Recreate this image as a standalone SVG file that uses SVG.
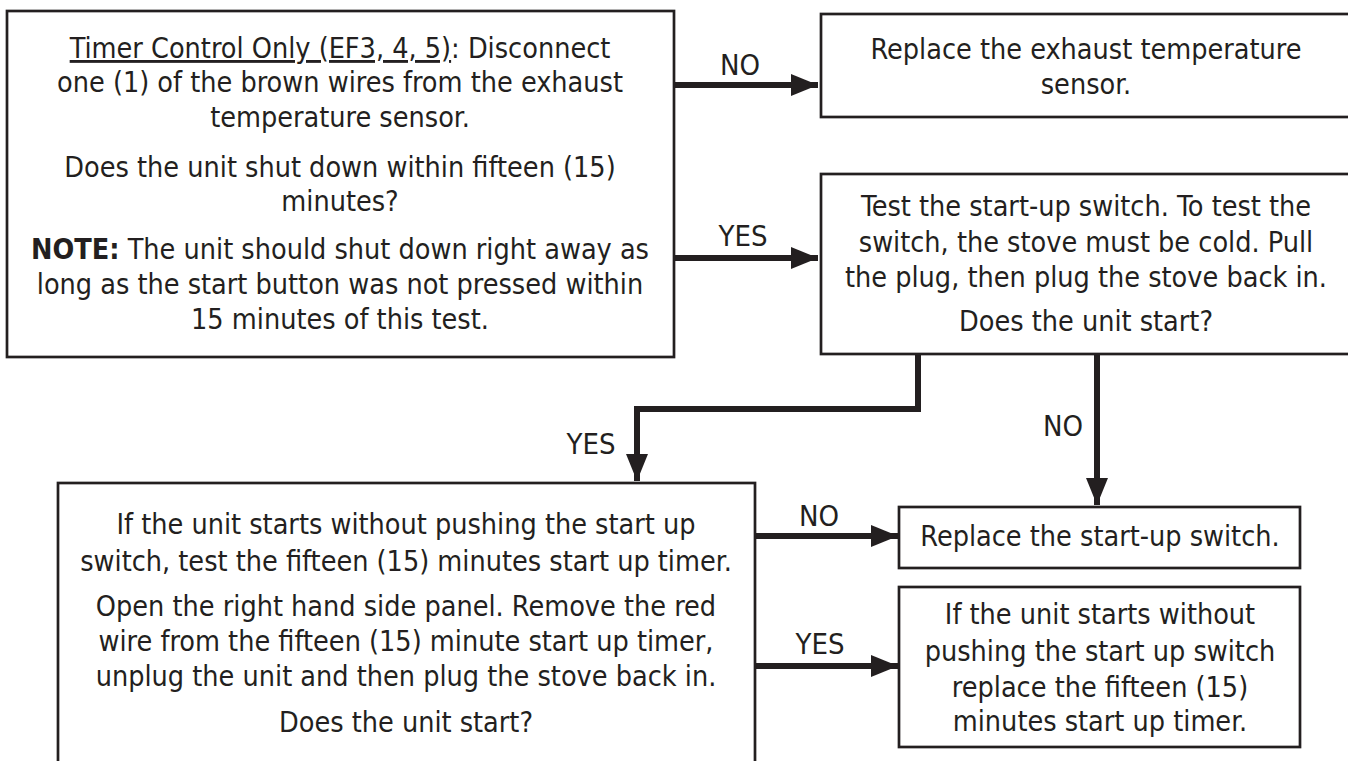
<svg xmlns="http://www.w3.org/2000/svg" width="1348" height="761" viewBox="0 0 1348 761">
<style>
.box{fill:#fff;stroke:#231f20;stroke-width:2.7}
.t{font-family:"DejaVu Sans Condensed","DejaVu Sans",sans-serif;font-stretch:condensed;font-size:28.5px;fill:#231f20;text-anchor:middle}
.lbl{font-family:"DejaVu Sans Condensed","DejaVu Sans",sans-serif;font-stretch:condensed;font-size:29px;fill:#231f20;text-anchor:middle}
.c{fill:none;stroke:#231f20;stroke-width:6}
</style>
<defs>
<marker id="ah" markerUnits="userSpaceOnUse" markerWidth="28" markerHeight="22" refX="27" refY="11" orient="auto">
<path d="M0,0 L27,11 L0,22 Z" fill="#231f20"/>
</marker>
</defs>
<rect width="1348" height="761" fill="#fff"/>
<g id="connectors">
<line class="c" x1="674" y1="85" x2="818" y2="85" marker-end="url(#ah)"/>
<line class="c" x1="674" y1="258" x2="818" y2="258" marker-end="url(#ah)"/>
<path class="c" d="M918,354 V409 H637 V481" marker-end="url(#ah)"/>
<path class="c" d="M1097,354 V505" marker-end="url(#ah)"/>
<line class="c" x1="755" y1="536" x2="898" y2="536" marker-end="url(#ah)"/>
<line class="c" x1="755" y1="666" x2="898" y2="666" marker-end="url(#ah)"/>
<text class="lbl" x="740" y="75">NO</text>
<text class="lbl" x="743" y="246">YES</text>
<text class="lbl" x="591" y="454">YES</text>
<text class="lbl" x="1063" y="436">NO</text>
<text class="lbl" x="819" y="526">NO</text>
<text class="lbl" x="820" y="654">YES</text>
</g>
<g id="n1">
<rect class="box" x="7" y="11" width="667" height="346"/>
<text class="t" x="340" y="58"><tspan text-decoration="underline">Timer Control Only (EF3, 4, 5)</tspan>: Disconnect</text>
<text class="t" x="340" y="92">one (1) of the brown wires from the exhaust</text>
<text class="t" x="340" y="127">temperature sensor.</text>
<text class="t" x="340" y="177">Does the unit shut down within fifteen (15)</text>
<text class="t" x="340" y="211">minutes?</text>
<text class="t" x="340" y="259"><tspan font-weight="bold">NOTE:</tspan> The unit should shut down right away as</text>
<text class="t" x="340" y="294">long as the start button was not pressed within</text>
<text class="t" x="340" y="329">15 minutes of this test.</text>
</g>
<g id="n2">
<rect class="box" x="821" y="14" width="532" height="103"/>
<text class="t" x="1086" y="59">Replace the exhaust temperature</text>
<text class="t" x="1086" y="94">sensor.</text>
</g>
<g id="n3">
<rect class="box" x="821" y="174" width="532" height="180"/>
<text class="t" x="1086" y="216">Test the start-up switch. To test the</text>
<text class="t" x="1086" y="252">switch, the stove must be cold. Pull</text>
<text class="t" x="1086" y="287">the plug, then plug the stove back in.</text>
<text class="t" x="1086" y="331">Does the unit start?</text>
</g>
<g id="n4">
<rect class="box" x="58" y="483" width="697" height="300"/>
<text class="t" x="406" y="534">If the unit starts without pushing the start up</text>
<text class="t" x="406" y="571">switch, test the fifteen (15) minutes start up timer.</text>
<text class="t" x="406" y="616">Open the right hand side panel. Remove the red</text>
<text class="t" x="406" y="651">wire from the fifteen (15) minute start up timer,</text>
<text class="t" x="406" y="686">unplug the unit and then plug the stove back in.</text>
<text class="t" x="406" y="732">Does the unit start?</text>
</g>
<g id="n5">
<rect class="box" x="899" y="507" width="401" height="61"/>
<text class="t" x="1100" y="546">Replace the start-up switch.</text>
</g>
<g id="n6">
<rect class="box" x="899" y="587" width="401" height="160"/>
<text class="t" x="1100" y="624">If the unit starts without</text>
<text class="t" x="1100" y="661">pushing the start up switch</text>
<text class="t" x="1100" y="697">replace the fifteen (15)</text>
<text class="t" x="1100" y="731">minutes start up timer.</text>
</g>
</svg>
